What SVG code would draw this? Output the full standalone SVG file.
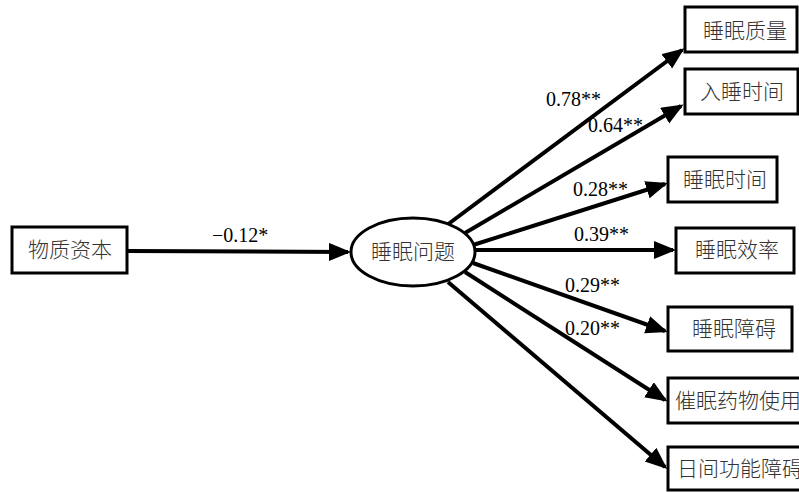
<svg xmlns="http://www.w3.org/2000/svg" width="799" height="492" viewBox="0 0 799 492">
<defs>
<style>
.box{fill:#fff;stroke:#000;stroke-width:3}
.cn{font-family:"Noto Sans CJK SC","Noto Sans CJK JP",sans-serif;font-size:21px;font-weight:300;fill:#333}
.num{font-family:"Liberation Serif","Times New Roman",serif;font-size:20px;fill:#000}
.edge{stroke:#000;stroke-width:4;fill:none;marker-end:url(#arr)}
</style>
<marker id="arr" markerUnits="userSpaceOnUse" markerWidth="24" markerHeight="20" refX="19" refY="9" orient="auto">
<path d="M0,0 L22,9 L0,18 Z" fill="#000"/>
</marker>
</defs>
<rect width="799" height="492" fill="#fff"/>
<g id="connectors">
<line class="edge" x1="127" y1="251" x2="348" y2="252"/>
<line class="edge" x1="447" y1="225" x2="682" y2="50"/>
<line class="edge" x1="465" y1="233" x2="681" y2="106"/>
<line class="edge" x1="473" y1="245" x2="665" y2="184"/>
<line class="edge" x1="474" y1="250" x2="673" y2="250"/>
<line class="edge" x1="473" y1="263" x2="665" y2="331"/>
<line class="edge" x1="465" y1="272" x2="665" y2="400"/>
<line class="edge" x1="448" y1="282" x2="665" y2="467"/>
</g>
<g id="labels">
<text class="num" x="212" y="242">−0.12*</text>
<text class="num" x="546" y="106">0.78**</text>
<text class="num" x="588" y="132">0.64**</text>
<text class="num" x="573" y="196">0.28**</text>
<text class="num" x="574" y="241">0.39**</text>
<text class="num" x="565" y="292">0.29**</text>
<text class="num" x="565" y="335">0.20**</text>
</g>
<g id="node-wuzhiziben">
<rect class="box" x="12" y="227" width="115" height="46"/>
<text class="cn" x="70" y="257" text-anchor="middle">物质资本</text>
</g>
<g id="node-shuimianwenti">
<ellipse cx="413" cy="252" rx="62" ry="34" fill="#fff" stroke="#000" stroke-width="3"/>
<text class="cn" x="413" y="259" text-anchor="middle">睡眠问题</text>
</g>
<g id="node-zhiliang">
<rect class="box" x="685" y="7" width="112" height="45"/>
<text class="cn" x="745" y="38" text-anchor="middle">睡眠质量</text>
</g>
<g id="node-rushui">
<rect class="box" x="685" y="69" width="113" height="45"/>
<text class="cn" x="700" y="99">入睡时间</text>
</g>
<g id="node-shijian">
<rect class="box" x="668" y="157" width="109" height="45"/>
<text class="cn" x="725" y="187" text-anchor="middle">睡眠时间</text>
</g>
<g id="node-xiaolv">
<rect class="box" x="676" y="228" width="118" height="45"/>
<text class="cn" x="737" y="257" text-anchor="middle">睡眠效率</text>
</g>
<g id="node-zhangai">
<rect class="box" x="668" y="307" width="124" height="44"/>
<text class="cn" x="692" y="336">睡眠障碍</text>
</g>
<g id="node-yaowu">
<rect class="box" x="668" y="378" width="140" height="45"/>
<text class="cn" x="675" y="408">催眠药物使用</text>
</g>
<g id="node-rijian">
<rect class="box" x="668" y="447" width="140" height="43"/>
<text class="cn" x="677" y="476">日间功能障碍</text>
</g>
</svg>
